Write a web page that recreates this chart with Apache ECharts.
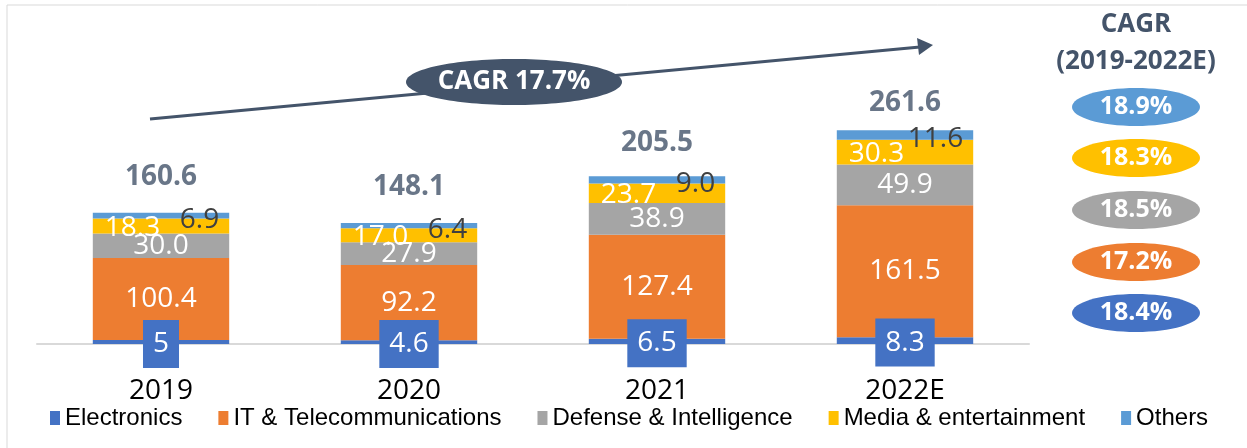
<!DOCTYPE html>
<html>
<head>
<meta charset="utf-8">
<script src="https://cdn.jsdelivr.net/npm/echarts@6/dist/echarts.min.js"></script>
<style>
  html, body { margin: 0; padding: 0; background: #fff; }
  #main { width: 1247px; height: 448px; }
</style>
</head>
<body>
<div id="main"></div>
<script>
var years = ['2019', '2020', '2021', '2022E'];
var electronics = [5, 4.6, 6.5, 8.3];
var itTelecom = [100.4, 92.2, 127.4, 161.5];
var defense = [30.0, 27.9, 38.9, 49.9];
var media = [18.3, 17.0, 23.7, 30.3];
var others = [6.9, 6.4, 9.0, 11.6];
var totals = [160.6, 148.1, 205.5, 261.6];
var cagrLabels = ['18.9%', '18.3%', '18.5%', '17.2%', '18.4%'];
var cagrColors = ['#5B9BD5', '#FFC000', '#A5A5A5', '#ED7D31', '#4472C4'];

var font = 'Open Sans';
var slate = '#44546A';

var myChart = echarts.init(document.getElementById('main'));

function fixed1(p) { return p.value.toFixed(1); }

var graphics = [
    // frame
    { type: 'rect', shape: { x: 7, y: 5, width: 1300, height: 500 }, style: { fill: 'none', stroke: '#d9d9d9', lineWidth: 1 }, z: 0 },
    // trend arrow
    { type: 'line', shape: { x1: 150, y1: 119, x2: 920, y2: 47 }, style: { stroke: slate, lineWidth: 3 }, z: 5 },
    { type: 'polygon', shape: { points: [[933, 45], [917, 38], [919, 55]] }, style: { fill: slate }, z: 5 },
    { type: 'ellipse', shape: { cx: 514, cy: 82, rx: 108, ry: 23 }, style: { fill: slate }, z: 6 },
    { type: 'text', x: 514, y: 82, z: 7, style: { text: 'CAGR 17.7%', fill: '#fff', font: 'bold 26px "' + font + '"', align: 'center', verticalAlign: 'middle' } },
    // right-side CAGR panel
    { type: 'text', x: 1136, y: 25, style: { text: 'CAGR', fill: slate, font: 'bold 26px "' + font + '"', align: 'center', verticalAlign: 'middle' } },
    { type: 'text', x: 1136, y: 62, style: { text: '(2019-2022E)', fill: slate, font: 'bold 26px "' + font + '"', align: 'center', verticalAlign: 'middle' } }
];
var cagrY = [107, 158, 210, 262, 313];
cagrLabels.forEach(function (t, i) {
    graphics.push({ type: 'ellipse', shape: { cx: 1136, cy: cagrY[i], rx: 64, ry: 19 }, style: { fill: cagrColors[i] } });
    graphics.push({ type: 'text', x: 1136, y: cagrY[i], style: { text: t, fill: '#fff', font: 'bold 25px "' + font + '"', align: 'center', verticalAlign: 'middle' } });
});

// small vertical nudges for the total labels, as placed in the original
var totalNudge = [0, 0, 3, 9];

var option = {
    animation: false,
    textStyle: { fontFamily: font },
    grid: { left: 37, right: 218, top: 99, bottom: 104 },
    legend: {
        data: ['Electronics', 'IT & Telecommunications', 'Defense & Intelligence', 'Media & entertainment', 'Others'],
        left: 45,
        top: 401,
        itemWidth: 10,
        itemHeight: 14,
        itemGap: 36,
        icon: 'rect',
        textStyle: { fontSize: 24, color: '#000', fontFamily: 'Liberation Sans' }
    },
    xAxis: {
        type: 'category',
        data: years,
        axisLine: { lineStyle: { color: '#d9d9d9', width: 2 } },
        axisTick: { show: false },
        axisLabel: { fontSize: 28, color: '#000', margin: 33 }
    },
    yAxis: { type: 'value', min: 0, max: 300, show: false, splitLine: { show: false } },
    series: [
        {
            name: 'Electronics', type: 'bar', stack: 'a', barWidth: '55%', data: electronics,
            itemStyle: { color: '#4472C4' },
            label: { show: true, position: 'inside', offset: [0, 2], color: '#fff', fontSize: 28, backgroundColor: '#4472C4', padding: [8, 10, 8, 10], lineHeight: 32 }
        },
        {
            name: 'IT & Telecommunications', type: 'bar', stack: 'a', data: itTelecom,
            itemStyle: { color: '#ED7D31' },
            label: { show: true, position: 'inside', color: '#fff', fontSize: 28, formatter: fixed1 }
        },
        {
            name: 'Defense & Intelligence', type: 'bar', stack: 'a', data: defense,
            itemStyle: { color: '#A5A5A5' },
            label: { show: true, position: 'inside', color: '#fff', fontSize: 28, formatter: fixed1 }
        },
        {
            name: 'Media & entertainment', type: 'bar', stack: 'a', data: media,
            itemStyle: { color: '#FFC000' },
            label: { show: true, position: 'insideLeft', distance: 12, offset: [0, 2], color: '#fff', fontSize: 28, formatter: fixed1 }
        },
        {
            name: 'Others', type: 'bar', stack: 'a', data: others,
            itemStyle: { color: '#5B9BD5' },
            label: { show: true, position: 'insideRight', distance: 10, offset: [0, 4], color: '#404040', fontSize: 28, formatter: fixed1 }
        },
        {
            name: 'Total', type: 'scatter', symbolSize: 0, z: 10,
            data: totals.map(function (v, i) {
                return { value: v, label: { offset: [0, totalNudge[i]] } };
            }),
            label: { show: true, position: 'top', distance: 22, color: slate, fontSize: 28, fontWeight: 'bold', formatter: fixed1 }
        }
    ],
    graphic: graphics
};
myChart.setOption(option);
</script>
</body>
</html>
